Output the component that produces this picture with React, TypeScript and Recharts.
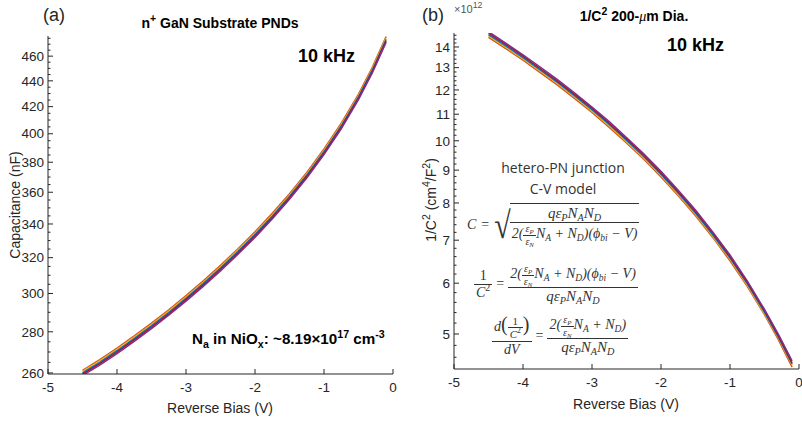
import React from 'react';
import { LineChart, Line, XAxis, YAxis } from 'recharts';

// reverse bias points (V)
const volts = [-4.5, -4.25, -4, -3.75, -3.5, -3.25, -3, -2.75, -2.5, -2.25, -2, -1.75, -1.5, -1.25, -1, -0.75, -0.5, -0.3, -0.1];

// (a) capacitance, nF
const capOrange = [261.2, 266.3, 271.9, 277.9, 284.4, 291.3, 298.9, 306.9, 315.6, 325.0, 335.3, 346.6, 359.0, 373.1, 389.2, 407.7, 429.6, 450.8, 476.5];
const capYellow = [260.7, 265.7, 271.3, 277.3, 283.7, 290.6, 298.1, 306.1, 314.8, 324.2, 334.4, 345.6, 358.1, 372.1, 388.2, 406.6, 428.5, 449.6, 475.2];
const capBlue = [260.0, 265.0, 270.6, 276.6, 283.0, 289.9, 297.4, 305.4, 314.0, 323.4, 333.6, 344.8, 357.2, 371.2, 387.2, 405.6, 427.4, 448.5, 474.0];
const capRed = [259.4, 264.4, 269.9, 275.9, 282.3, 289.2, 296.7, 304.6, 313.2, 322.6, 332.8, 343.9, 356.3, 370.3, 386.2, 404.6, 426.3, 447.4, 472.8];
const capPurple = [258.8, 263.7, 269.2, 275.2, 281.6, 288.5, 295.9, 303.9, 312.4, 321.8, 331.9, 343.1, 355.4, 369.3, 385.3, 403.6, 425.3, 446.3, 471.6];

// (b) 1/C^2, x10^12 cm^4/F^2
const invOrange = [14.49, 13.92, 13.35, 12.77, 12.21, 11.63, 11.07, 10.49, 9.92, 9.36, 8.78, 8.21, 7.64, 7.07, 6.50, 5.93, 5.36, 4.90, 4.44];
const invYellow = [14.57, 13.99, 13.41, 12.84, 12.27, 11.69, 11.12, 10.55, 9.97, 9.40, 8.83, 8.25, 7.68, 7.10, 6.54, 5.96, 5.38, 4.93, 4.47];
const invBlue = [14.64, 14.06, 13.48, 12.90, 12.33, 11.75, 11.18, 10.60, 10.02, 9.45, 8.87, 8.29, 7.72, 7.14, 6.57, 5.99, 5.41, 4.95, 4.49];
const invRed = [14.71, 14.13, 13.55, 12.96, 12.39, 11.81, 11.24, 10.65, 10.07, 9.50, 8.91, 8.33, 7.76, 7.18, 6.60, 6.02, 5.44, 4.97, 4.51];
const invPurple = [14.79, 14.20, 13.61, 13.03, 12.45, 11.87, 11.29, 10.71, 10.12, 9.54, 8.96, 8.37, 7.80, 7.21, 6.64, 6.05, 5.46, 5.00, 4.54];

const xTicks = [-5, -4, -3, -2, -1, 0];
const capTicks = [260, 280, 300, 320, 340, 360, 380, 400, 420, 440, 460];
const invTicks = [5, 6, 7, 8, 9, 10, 11, 12, 13, 14];

const COLORS = { orange: '#D95319', yellow: '#EDB120', blue: '#0072BD', red: '#A2142F', purple: '#7E2F8E' };
const AXIS = '#262626';
const FONT = '"Liberation Sans", Arial, sans-serif';

const capData = volts.map((v, i) => ({ v, o: capOrange[i], y: capYellow[i], b: capBlue[i], r: capRed[i], p: capPurple[i] }));
const invData = volts.map((v, i) => ({ v, o: invOrange[i], y: invYellow[i], b: invBlue[i], r: invRed[i], p: invPurple[i] }));

const capMinor: number[] = [];
for (let t = 260; t <= 475; t += 5) capMinor.push(t);
const invMinor: number[] = [];
for (let t = 46; t <= 146; t += 2) invMinor.push(t / 10);

const isMajor = (list: number[], v: number) => list.some(m => Math.abs(m - v) < 1e-6);

const makeYTick = (side: 'left' | 'right', majors: number[]) => (props: any) => {
  const { x, y, payload } = props;
  const major = isMajor(majors, payload.value);
  const len = major ? 5 : 2.5;
  const dir = side === 'left' ? 1 : -1;
  return (
    <g>
      <line x1={x} y1={y} x2={x + dir * len} y2={y} stroke={AXIS} strokeWidth={1} />
      {side === 'left' && major && (
        <text x={x - 4} y={y} dy="0.35em" textAnchor="end" fill={AXIS} fontSize={13.5} fontFamily={FONT}>{payload.value}</text>
      )}
    </g>
  );
};

const makeXTick = (side: 'top' | 'bottom') => (props: any) => {
  const { x, y, payload } = props;
  const dir = side === 'bottom' ? -1 : 1;
  return (
    <g>
      <line x1={x} y1={y} x2={x} y2={y + dir * 5} stroke={AXIS} strokeWidth={1} />
      {side === 'bottom' && (
        <text x={x} y={y + 8} dy="0.71em" textAnchor="middle" fill={AXIS} fontSize={13.5} fontFamily={FONT}>{payload.value}</text>
      )}
    </g>
  );
};

const series = [
  { key: 'o', color: COLORS.orange },
  { key: 'y', color: COLORS.yellow },
  { key: 'b', color: COLORS.blue },
  { key: 'r', color: COLORS.red },
  { key: 'p', color: COLORS.purple },
];

interface PanelProps {
  data: any[];
  domain: [number, number];
  majors: number[];
  minors: number[];
  width: number;
  yWidth: number;
  margin: { top: number; right: number; left: number; bottom: number };
  xHeight: number;
}

const Panel: React.FC<PanelProps> = ({ data, domain, majors, minors, width, yWidth, margin, xHeight }) => (
  <LineChart width={width} height={423} data={data} margin={margin}>
    <XAxis dataKey="v" type="number" domain={[-5, 0]} ticks={xTicks} interval={0} height={xHeight}
      stroke={AXIS} tickLine={false} tickSize={0} tickMargin={0} tick={makeXTick('bottom')} allowDataOverflow />
    <XAxis xAxisId="top" orientation="top" dataKey="v" type="number" domain={[-5, 0]} ticks={xTicks} interval={0} height={0}
      stroke={AXIS} tickLine={false} tickSize={0} tickMargin={0} tick={makeXTick('top')} allowDataOverflow />
    <YAxis type="number" scale="log" domain={domain} ticks={minors} interval={0} width={yWidth}
      stroke={AXIS} tickLine={false} tickSize={0} tickMargin={0} tick={makeYTick('left', majors)} allowDataOverflow />
    <YAxis yAxisId="right" orientation="right" type="number" scale="log" domain={domain} ticks={minors} interval={0} width={0}
      stroke={AXIS} tickLine={false} tickSize={0} tickMargin={0} tick={makeYTick('right', majors)} allowDataOverflow />
    {series.map(s => (
      <Line key={s.key} dataKey={s.key} stroke={s.color} strokeWidth={1.5} dot={false} isAnimationActive={false} type="linear" />
    ))}
  </LineChart>
);

const sub = (t: string) => <sub style={{ fontSize: '0.68em', verticalAlign: '-0.3em', lineHeight: 0 }}>{t}</sub>;

const Frac: React.FC<{ n: React.ReactNode; d: React.ReactNode; size?: number }> = ({ n, d, size }) => (
  <span style={{ display: 'inline-flex', flexDirection: 'column', alignItems: 'center', verticalAlign: 'middle', fontSize: size, lineHeight: 1.15 }}>
    <span style={{ padding: '0 2px' }}>{n}</span>
    <span style={{ borderTop: '1px solid #333', padding: '0 2px', alignSelf: 'stretch', textAlign: 'center' }}>{d}</span>
  </span>
);

const epsRatio = <Frac n={<>ε{sub('P')}</>} d={<>ε{sub('N')}</>} size={10} />;
const qNN = <span style={{ fontSize: 15 }}>qε{sub('P')}N{sub('A')}N{sub('D')}</span>;
const longNum = <>2({epsRatio}N{sub('A')} + N{sub('D')})(ϕ{sub('bi')} − V)</>;
const shortNum = <>2({epsRatio}N{sub('A')} + N{sub('D')})</>;

const mathStyle: React.CSSProperties = { position: 'absolute', fontFamily: '"Liberation Serif", "DejaVu Serif", serif', fontStyle: 'italic', fontSize: 14, color: '#333', whiteSpace: 'nowrap', display: 'flex', alignItems: 'center' };

export default function App() {
  return (
    <div style={{ position: 'absolute', left: 0, top: 0, width: 802, height: 423, background: '#fff', overflow: 'hidden', fontFamily: FONT }}>
      <div style={{ position: 'absolute', left: 0, top: 0 }}>
        <Panel data={capData} domain={[259.5, 477]} majors={capTicks} minors={capMinor} width={400} yWidth={48}
          margin={{ top: 36, right: 7, left: 0, bottom: 0 }} xHeight={49} />
      </div>
      <div style={{ position: 'absolute', left: 402, top: 0 }}>
        <Panel data={invData} domain={[4.41, 14.72]} majors={invTicks} minors={invMinor} width={400} yWidth={52}
          margin={{ top: 33, right: 3, left: 0, bottom: 0 }} xHeight={54} />
      </div>

      {/* titles and labels */}
      <div style={{ position: 'absolute', left: 43, top: 5, fontSize: 18, color: AXIS }}>(a)</div>
      <div style={{ position: 'absolute', left: 422, top: 5, fontSize: 18, color: AXIS }}>(b)</div>
      <div style={{ position: 'absolute', left: 130, top: 15, width: 180, textAlign: 'center', fontSize: 14, fontWeight: 'bold', color: '#000' }}>
        n<sup style={{ fontSize: '0.75em', lineHeight: 0 }}>+</sup> GaN Substrate PNDs
      </div>
      <div style={{ position: 'absolute', left: 556, top: 8, width: 156, textAlign: 'center', fontSize: 14, fontWeight: 'bold', color: '#000' }}>
        1/C<sup style={{ fontSize: '0.75em', lineHeight: 0 }}>2</sup> 200-<i style={{ fontWeight: 'normal', fontFamily: '"Liberation Serif", serif' }}>μ</i>m Dia.
      </div>
      <div style={{ position: 'absolute', left: 454, top: 3, fontSize: 11, color: '#555' }}>
        ×10<sup style={{ fontSize: '0.8em', lineHeight: 0 }}>12</sup>
      </div>
      <div style={{ position: 'absolute', left: 298, top: 46, fontSize: 18, fontWeight: 'bold', color: '#000' }}>10 kHz</div>
      <div style={{ position: 'absolute', left: 667, top: 35, fontSize: 18, fontWeight: 'bold', color: '#000' }}>10 kHz</div>
      <div style={{ position: 'absolute', left: 192, top: 330, fontSize: 15.2, fontWeight: 'bold', color: '#000', whiteSpace: 'nowrap' }}>
        N<sub style={{ fontSize: '0.7em', lineHeight: 0 }}>a</sub> in NiO<sub style={{ fontSize: '0.7em', lineHeight: 0 }}>x</sub>: ~8.19×10<sup style={{ fontSize: '0.7em', lineHeight: 0 }}>17</sup> cm<sup style={{ fontSize: '0.7em', lineHeight: 0 }}>-3</sup>
      </div>
      <div style={{ position: 'absolute', left: 120, top: 400, width: 200, textAlign: 'center', fontSize: 14, color: AXIS }}>Reverse Bias (V)</div>
      <div style={{ position: 'absolute', left: 526, top: 396, width: 200, textAlign: 'center', fontSize: 14, color: AXIS }}>Reverse Bias (V)</div>
      <div style={{ position: 'absolute', left: 15, top: 205, transform: 'translate(-50%, -50%) rotate(-90deg)', fontSize: 14, color: AXIS, whiteSpace: 'nowrap' }}>
        Capacitance (nF)
      </div>
      <div style={{ position: 'absolute', left: 431, top: 200, transform: 'translate(-50%, -50%) rotate(-90deg)', fontSize: 14, color: AXIS, whiteSpace: 'nowrap' }}>
        1/C<sup style={{ fontSize: '0.75em', lineHeight: 0 }}>2</sup> (cm<sup style={{ fontSize: '0.75em', lineHeight: 0 }}>4</sup>/F<sup style={{ fontSize: '0.75em', lineHeight: 0 }}>2</sup>)
      </div>

      {/* C-V model box */}
      <div style={{ position: 'absolute', left: 500, top: 157, width: 126, textAlign: 'center', fontSize: 14, color: '#333', fontFamily: '"Open Sans", "Liberation Sans", sans-serif', lineHeight: '21px' }}>
        hetero-PN junction<br />C-V model
      </div>
      <div style={{ ...mathStyle, left: 467, top: 203 }}>
        <span>C</span><span style={{ fontStyle: 'normal', margin: '0 5px' }}>=</span>
        <span style={{ fontStyle: 'normal', fontSize: 30, lineHeight: 1, transform: 'scaleY(1.25)', marginRight: -1 }}>√</span>
        <span style={{ borderTop: '1px solid #333', paddingTop: 1 }}>
          <Frac n={qNN} d={longNum} />
        </span>
      </div>
      <div style={{ ...mathStyle, left: 474, top: 263 }}>
        <Frac n={<span style={{ fontStyle: 'normal' }}>1</span>} d={<>C<sup style={{ fontSize: '0.7em', fontStyle: 'normal', lineHeight: 0 }}>2</sup></>} />
        <span style={{ fontStyle: 'normal', margin: '0 4px' }}>=</span>
        <Frac n={longNum} d={qNN} />
      </div>
      <div style={{ ...mathStyle, left: 492, top: 313 }}>
        <Frac n={<>d<span style={{ fontStyle: 'normal', fontSize: 20 }}>(</span><Frac n={<span style={{ fontStyle: 'normal' }}>1</span>} d={<>C<sup style={{ fontSize: '0.7em', fontStyle: 'normal', lineHeight: 0 }}>2</sup></>} size={11} /><span style={{ fontStyle: 'normal', fontSize: 20 }}>)</span></>} d={<>dV</>} />
        <span style={{ fontStyle: 'normal', margin: '0 4px' }}>=</span>
        <Frac n={shortNum} d={qNN} />
      </div>
    </div>
  );
}
